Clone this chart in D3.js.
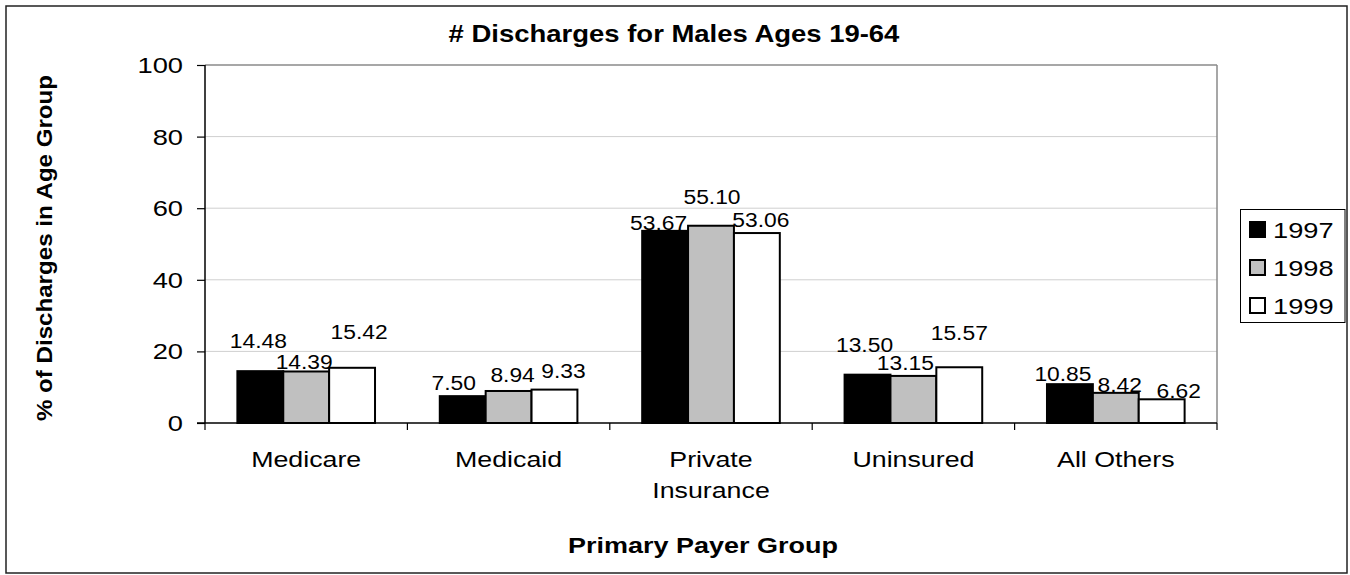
<!DOCTYPE html>
<html>
<head>
<meta charset="utf-8">
<script src="https://cdn.jsdelivr.net/npm/d3@7/dist/d3.min.js"></script>
<style>
  html, body { margin: 0; padding: 0; background: #fff; }
  svg { display: block; }
  text { font-family: "Liberation Sans", Arial, Helvetica, sans-serif; fill: #000; }
</style>
</head>
<body>
<svg id="chart" width="1350" height="575"></svg>
<script>
// ---- data ----
const categories = ["Medicare", "Medicaid", "Private Insurance", "Uninsured", "All Others"];
const years = ["1997", "1998", "1999"];
const values1997 = [14.48, 7.50, 53.67, 13.50, 10.85];
const values1998 = [14.39, 8.94, 55.10, 13.15, 8.42];
const values1999 = [15.42, 9.33, 53.06, 15.57, 6.62];
const yTicks = [0, 20, 40, 60, 80, 100];
const chartTitle = "# Discharges for Males Ages 19-64";
const xTitle = "Primary Payer Group";
const yTitle = "% of Discharges in Age Group";

// ---- layout / style ----
const fills = { "1997": "#000000", "1998": "#c0c0c0", "1999": "#ffffff" };
const plot = { left: 205, right: 1217, top: 65, bottom: 423 };
// label nudges (dx, dy relative to bar centre / bar top), as in the original's placement
const labelNudge = {
  "1997": [[-2, -23], [-9, -6], [-6.5, -1], [-3, -23], [-7, -3]],
  "1998": [[-2, -2], [4, -9], [1, -22], [-8, -6], [4, -1]],
  "1999": [[7, -29], [9, -12], [4, -6], [0, -27], [17, -1]]
};
const seriesValues = { "1997": values1997, "1998": values1998, "1999": values1999 };

const svg = d3.select("#chart");

// outer border
svg.append("rect").attr("x", 6).attr("y", 6).attr("width", 1341).attr("height", 567)
  .attr("fill", "#fff").attr("stroke", "#222").attr("stroke-width", 1.5);

const y = d3.scaleLinear().domain([0, 100]).range([plot.bottom, plot.top]);
const x0 = d3.scaleBand().domain(categories).range([plot.left, plot.right]).padding(0);
const gap = x0.bandwidth() * 0.16;
const x1 = d3.scaleBand().domain(years).range([gap, x0.bandwidth() - gap]).padding(0);

// gridlines
svg.append("g").selectAll("line").data(yTicks.filter(t => t > 0 && t < 100)).join("line")
  .attr("x1", plot.left).attr("x2", plot.right)
  .attr("y1", d => y(d)).attr("y2", d => y(d))
  .attr("stroke", "#cfcfcf").attr("stroke-width", 1);
// plot frame top/right
svg.append("line").attr("x1", plot.left).attr("x2", plot.right).attr("y1", y(100)).attr("y2", y(100))
  .attr("stroke", "#8a8a8a").attr("stroke-width", 1.5);
svg.append("line").attr("x1", plot.right).attr("x2", plot.right).attr("y1", y(100)).attr("y2", plot.bottom)
  .attr("stroke", "#8a8a8a").attr("stroke-width", 1.5);

// bars
const groups = svg.append("g").selectAll("g").data(categories).join("g")
  .attr("transform", d => `translate(${x0(d)},0)`);
groups.selectAll("rect").data((c, i) => years.map(yr => ({ yr, v: seriesValues[yr][i], i })))
  .join("rect")
  .attr("x", d => x1(d.yr)).attr("width", x1.bandwidth())
  .attr("y", d => y(d.v)).attr("height", d => y(0) - y(d.v))
  .attr("fill", d => fills[d.yr]).attr("stroke", "#000").attr("stroke-width", 2);

// value labels
groups.selectAll("text").data((c, i) => years.map(yr => ({ yr, v: seriesValues[yr][i], i })))
  .join("text")
  .attr("text-anchor", "middle")
  .attr("font-size", 19.5)
  .attr("transform", d => {
    const n = labelNudge[d.yr][d.i];
    return `translate(${x1(d.yr) + x1.bandwidth() / 2 + n[0]},${y(d.v) + n[1]}) scale(1.17,1)`;
  })
  .text(d => d.v.toFixed(2));

// y axis
const yAxis = d3.axisLeft(y).tickValues(yTicks).tickSize(8).tickPadding(14);
const ya = svg.append("g").attr("transform", `translate(${plot.left},0)`).call(yAxis);
ya.select(".domain").attr("stroke", "#000").attr("stroke-width", 1.5).attr("d", `M0,${plot.top}V${plot.bottom}`);
ya.selectAll(".tick line").attr("stroke", "#000").attr("stroke-width", 1.2);
ya.selectAll(".tick text").each(function () {
  const t = d3.select(this);
  const yy = t.node().parentNode.getAttribute("transform");
  t.attr("x", null).attr("dy", null)
   .attr("font-family", null).attr("font-size", null)
   .style("font-size", "21.5px")
   .attr("fill", "#000")
   .attr("transform", "translate(-22,7.5) scale(1.27,1)");
});

// x axis
const xa = svg.append("g").attr("transform", `translate(0,${plot.bottom})`);
xa.append("line").attr("x1", plot.left - 8).attr("x2", plot.right).attr("y1", 0).attr("y2", 0)
  .attr("stroke", "#000").attr("stroke-width", 1.5);
const bounds = categories.map(c => x0(c)).concat([plot.right]);
xa.selectAll("line.tk").data(bounds).join("line").attr("class", "tk")
  .attr("x1", d => d).attr("x2", d => d).attr("y1", 0).attr("y2", 7)
  .attr("stroke", "#000").attr("stroke-width", 1.2);

// category labels (wrap if wider than the band)
const catG = svg.append("g");
categories.forEach(c => {
  const cx = x0(c) + x0.bandwidth() / 2;
  const probe = catG.append("text").attr("font-size", 22.5).text(c);
  const w = probe.node().getComputedTextLength() * 1.19;
  probe.remove();
  const lines = w > x0.bandwidth() ? c.split(" ") : [c];
  lines.forEach((ln, k) => {
    catG.append("text").attr("text-anchor", "middle").attr("font-size", 22.5)
      .attr("transform", `translate(${cx},${467 + k * 31}) scale(1.19,1)`)
      .text(ln);
  });
});

// titles
svg.append("text").attr("text-anchor", "middle").attr("font-size", 24).attr("font-weight", "bold")
  .attr("transform", "translate(674,42) scale(1.145,1)").text(chartTitle);
svg.append("text").attr("text-anchor", "middle").attr("font-size", 22).attr("font-weight", "bold")
  .attr("transform", "translate(703,553) scale(1.227,1)").text(xTitle);
svg.append("text").attr("text-anchor", "middle").attr("font-size", 22).attr("font-weight", "bold")
  .attr("transform", "translate(52,248) rotate(-90) scale(1.096,1)").text(yTitle);

// legend
const lg = svg.append("g");
lg.append("rect").attr("x", 1240.5).attr("y", 209.5).attr("width", 104.5).attr("height", 113)
  .attr("fill", "#fff").attr("stroke", "#000").attr("stroke-width", 1);
const ly = d3.scalePoint().domain(years).range([0, 76]);
const items = lg.selectAll("g.item").data(years).join("g").attr("class", "item")
  .attr("transform", d => `translate(1249,${221 + ly(d)})`);
items.append("rect").attr("x", 1).attr("y", 1).attr("width", 15).attr("height", 15)
  .attr("fill", d => fills[d]).attr("stroke", "#000").attr("stroke-width", 2);
items.append("text").attr("font-size", 22.5)
  .attr("transform", "translate(24,16.5) scale(1.21,1)").text(d => d);
</script>
</body>
</html>
